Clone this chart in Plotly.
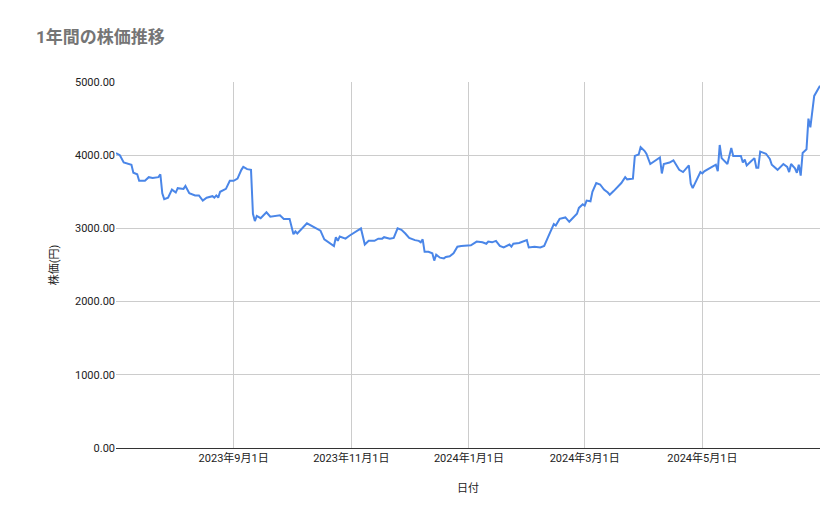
import plotly.graph_objects as go

# 読み取った株価データ(日付, 終値)
dates = [
    "2023-07-02", "2023-07-04", "2023-07-06", "2023-07-09", "2023-07-10", "2023-07-11",
    "2023-07-13", "2023-07-14", "2023-07-17", "2023-07-19", "2023-07-21", "2023-07-24",
    "2023-07-25", "2023-07-26", "2023-07-27", "2023-07-29", "2023-07-31", "2023-08-02",
    "2023-08-03", "2023-08-06", "2023-08-07", "2023-08-09", "2023-08-12", "2023-08-14",
    "2023-08-16", "2023-08-18", "2023-08-21", "2023-08-22", "2023-08-23", "2023-08-24",
    "2023-08-25", "2023-08-28", "2023-08-30", "2023-09-01", "2023-09-03", "2023-09-05",
    "2023-09-06", "2023-09-08", "2023-09-10", "2023-09-11", "2023-09-12", "2023-09-13",
    "2023-09-15", "2023-09-18", "2023-09-20", "2023-09-25", "2023-09-27", "2023-09-30",
    "2023-10-02", "2023-10-03", "2023-10-04", "2023-10-09", "2023-10-12", "2023-10-16",
    "2023-10-18", "2023-10-23", "2023-10-24", "2023-10-25", "2023-10-26", "2023-10-29",
    "2023-10-31", "2023-11-04", "2023-11-06", "2023-11-08", "2023-11-10", "2023-11-13",
    "2023-11-15", "2023-11-17", "2023-11-18", "2023-11-21", "2023-11-23", "2023-11-25",
    "2023-11-27", "2023-11-29", "2023-12-01", "2023-12-04", "2023-12-06", "2023-12-07",
    "2023-12-08", "2023-12-09", "2023-12-11", "2023-12-13", "2023-12-14", "2023-12-15",
    "2023-12-17", "2023-12-19", "2023-12-20", "2023-12-22", "2023-12-24", "2023-12-26",
    "2023-12-28", "2024-01-02", "2024-01-05", "2024-01-08", "2024-01-10", "2024-01-11",
    "2024-01-13", "2024-01-15", "2024-01-17", "2024-01-19", "2024-01-22", "2024-01-23",
    "2024-01-24", "2024-01-27", "2024-01-31", "2024-02-01", "2024-02-04", "2024-02-07",
    "2024-02-09", "2024-02-11", "2024-02-13", "2024-02-14", "2024-02-15", "2024-02-17",
    "2024-02-20", "2024-02-22", "2024-02-26", "2024-02-27", "2024-02-29", "2024-03-01",
    "2024-03-02", "2024-03-04", "2024-03-05", "2024-03-07", "2024-03-09", "2024-03-11",
    "2024-03-13", "2024-03-14", "2024-03-16", "2024-03-20", "2024-03-22", "2024-03-23",
    "2024-03-26", "2024-03-27", "2024-03-29", "2024-03-30", "2024-04-01", "2024-04-02",
    "2024-04-04", "2024-04-08", "2024-04-09", "2024-04-10", "2024-04-11", "2024-04-14",
    "2024-04-16", "2024-04-19", "2024-04-21", "2024-04-24", "2024-04-25", "2024-04-26",
    "2024-04-28", "2024-04-30", "2024-05-01", "2024-05-02", "2024-05-06", "2024-05-08",
    "2024-05-09", "2024-05-10", "2024-05-11", "2024-05-14", "2024-05-16", "2024-05-17",
    "2024-05-21", "2024-05-22", "2024-05-23", "2024-05-24", "2024-05-26", "2024-05-28",
    "2024-05-29", "2024-05-30", "2024-05-31", "2024-06-03", "2024-06-05", "2024-06-06",
    "2024-06-09", "2024-06-12", "2024-06-14", "2024-06-15", "2024-06-16", "2024-06-18",
    "2024-06-19", "2024-06-20", "2024-06-21", "2024-06-22", "2024-06-24", "2024-06-25",
    "2024-06-26", "2024-06-28", "2024-07-01",
]
prices = [
    4030, 4000, 3900, 3880, 3870, 3760,
    3740, 3650, 3650, 3700, 3690, 3700,
    3740, 3480, 3400, 3420, 3530, 3490,
    3550, 3540, 3580, 3480, 3450, 3450,
    3380, 3420, 3440, 3420, 3450, 3420,
    3500, 3540, 3650, 3650, 3680, 3800,
    3840, 3810, 3800, 3200, 3100, 3170,
    3140, 3220, 3160, 3180, 3130, 3130,
    2920, 2960, 2930, 3070, 3030, 2970,
    2850, 2760, 2880, 2830, 2890, 2860,
    2900, 2970, 3000, 2780, 2830, 2830,
    2860, 2860, 2880, 2860, 2870, 3000,
    2980, 2930, 2870, 2840, 2830, 2810,
    2850, 2680, 2680, 2660, 2560, 2640,
    2600, 2590, 2610, 2620, 2660, 2750,
    2760, 2770, 2820, 2810, 2790, 2820,
    2810, 2830, 2760, 2740, 2780, 2750,
    2790, 2800, 2840, 2740, 2750, 2740,
    2760, 2880, 3010, 3060, 3040, 3130,
    3150, 3090, 3200, 3280, 3330, 3310,
    3380, 3370, 3500, 3620, 3600, 3530,
    3490, 3460, 3510, 3620, 3700, 3670,
    3680, 3990, 4010, 4110, 4060, 4020,
    3880, 3950, 3970, 3750, 3880, 3900,
    3930, 3800, 3770, 3860, 3610, 3550,
    3650, 3770, 3750, 3780, 3840, 3870,
    3780, 4140, 3960, 3880, 4100, 3990,
    3990, 3900, 3940, 3860, 3910, 3960,
    3830, 3830, 4050, 4020, 3950, 3870,
    3800, 3880, 3840, 3770, 3880, 3820,
    3760, 3870, 3720, 4030, 4080, 4500,
    4380, 4810, 4950,
]

tick_vals = ["2023-09-01", "2023-11-01", "2024-01-01", "2024-03-01", "2024-05-01"]
tick_text = ["2023年9月1日", "2023年11月1日", "2024年1月1日", "2024年3月1日", "2024年5月1日"]
y_ticks = [0, 1000, 2000, 3000, 4000, 5000]

fig = go.Figure()
fig.add_trace(go.Scatter(
    x=dates, y=prices, mode='lines',
    line=dict(color='#4a86e8', width=2),
    showlegend=False,
))

fig.update_layout(
    width=839, height=519,
    paper_bgcolor='white', plot_bgcolor='white',
    font=dict(family='Roboto, Noto Sans CJK JP', size=11, color='#222222'),
    title=dict(text='<b>1年間の株価推移</b>', x=28 / 839, xref='container', y=0.955,
               xanchor='left', yanchor='top', font=dict(size=17, color='#757575')),
    margin=dict(l=108, r=27, t=74, b=79),
    xaxis=dict(
        range=["2023-07-02", "2024-07-01"], automargin=False,
        tickvals=tick_vals, ticktext=tick_text,
        showgrid=True, gridcolor='#cccccc', zeroline=False,
        showline=True, linecolor='#333333',
        title=dict(text='日付', standoff=20, font=dict(size=11)),
    ),
    yaxis=dict(
        range=[0, 5000], tickvals=y_ticks, tickformat='.2f', automargin=False,
        showgrid=True, gridcolor='#cccccc', zeroline=False,
        title=dict(text='株価(円)', standoff=14, font=dict(size=11)),
    ),
)
fig.write_html("out.html")
